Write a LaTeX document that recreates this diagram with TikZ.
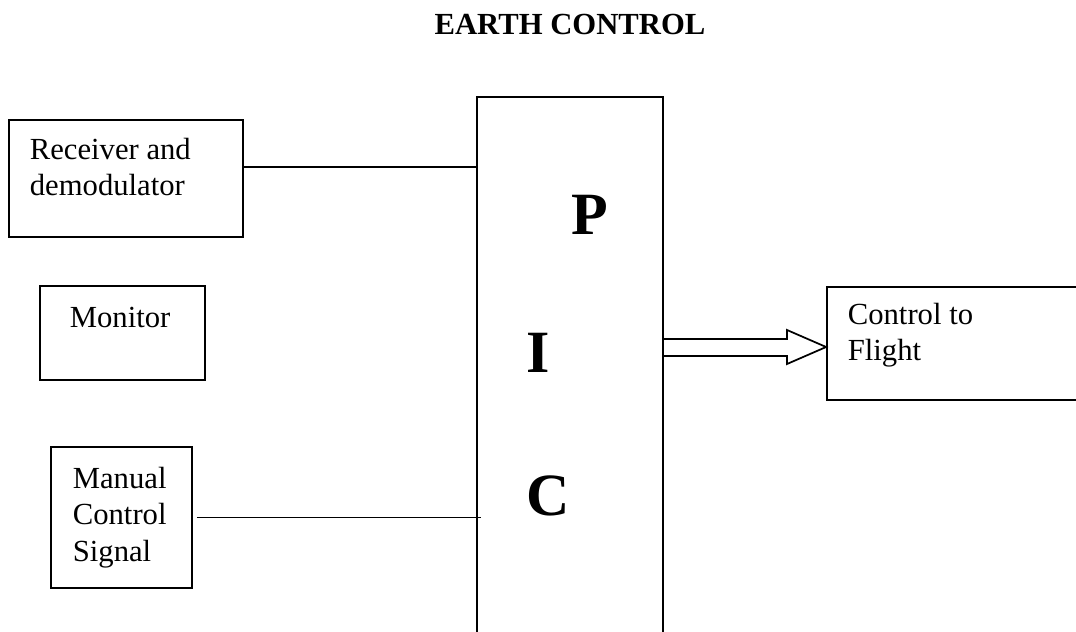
\documentclass[tikz,border=0pt]{standalone}
\usepackage{fontspec}
\setmainfont{Liberation Serif}
\usetikzlibrary{fit}

\tikzset{
	blk/.style={draw, line width=1.3pt, inner sep=0pt},
	txt/.style={inner sep=0pt, align=left, anchor=north west, font=\fontsize{23}{27.5}\selectfont},
	big/.style={inner sep=0pt, anchor=base, font=\fontsize{45}{50}\selectfont\bfseries}
}

\begin{document}
\begin{tikzpicture}[x=0.75pt, y=-0.75pt, line width=1.3pt]
		% one unit is one pixel of the 1076 x 632 sheet, y downwards
		\useasboundingbox (0, 0) rectangle (1076, 632);
		% PIC block, open below the sheet
		\node[blk, fit={(477, 97) (663, 700)}] (pic) {};
		\node[inner sep=0pt, anchor=base, font=\fontsize{23}{27.5}\selectfont\bfseries] (title) at (570, 34) {EARTH CONTROL};
		\node[big] (letP) at (590, 234) {P};
		\node[big] (letI) at (538, 372) {I};
		\node[big] (letC) at (548, 515) {C};
		% blocks on the left
		\node[blk, fit={(9, 120) (243, 237)}] (recv) {};
		\node[txt] (recvtxt) at (29, 137) {Receiver and\\demodulator};
		\node[blk, fit={(40, 286) (205, 380)}] (mon) {};
		\node[txt] (montxt) at (69, 306) {Monitor};
		\node[blk, fit={(51, 447) (192, 588)}] (man) {};
		\node[txt] (mantxt) at (72, 466) {Manual\\Control\\Signal};
		% output block, cut by the right border
		\node[blk, fit={(827, 287) (1130, 400)}] (ctrl) {};
		\node[txt] (ctrltxt) at (847, 302) {Control to\\Flight};
		% connectors
		\coordinate (rl) at (0, 167);
		\draw (recv.east |- rl) -- (pic.west |- rl);
		\draw ([xshift=3pt]man.east) -- ([xshift=3.75pt]pic.west |- man.east);
		% hollow arrow to the output
		\draw (pic.east |- 0, 339) -- (787, 339) -- (787, 330) -- (ctrl.west |- 0, 347)
			-- (787, 364) -- (787, 356) -- (pic.east |- 0, 356);
	\end{tikzpicture}
\end{document}
